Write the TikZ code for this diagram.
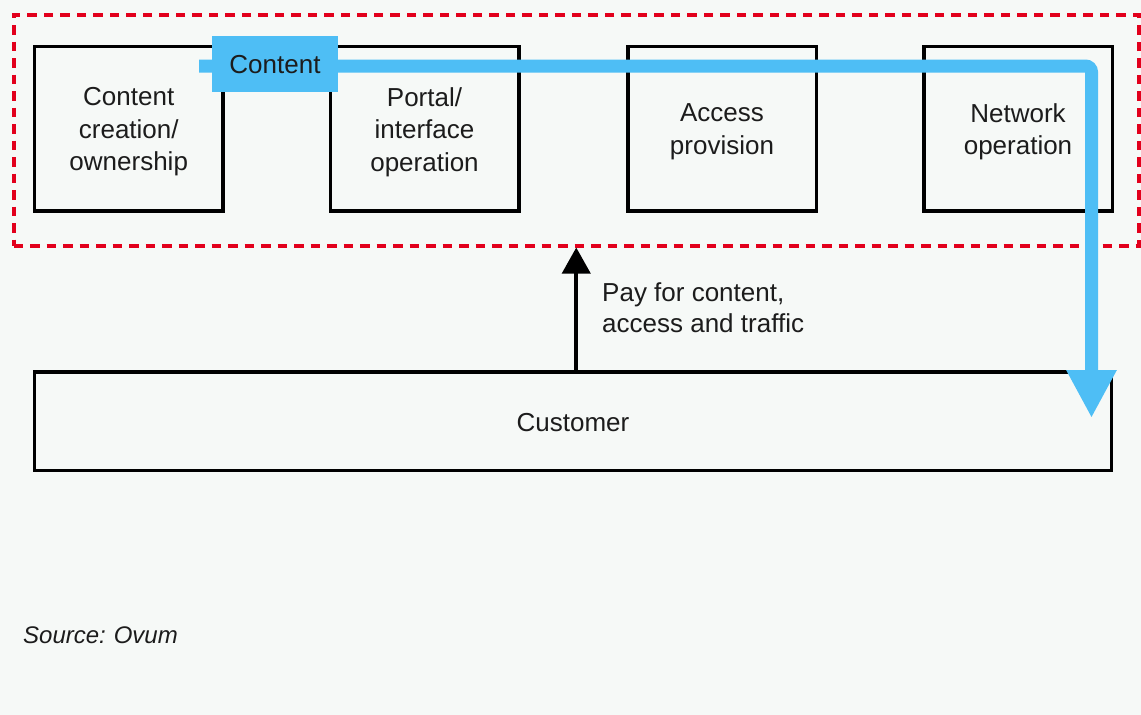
\documentclass[tikz,border=0pt]{standalone}
\usepackage{fontspec}
\setmainfont{Liberation Sans}
\usetikzlibrary{arrows.meta}

\definecolor{pagebg}{RGB}{246,249,247}
\definecolor{framered}{RGB}{226,0,28}
\definecolor{flowblue}{RGB}{78,190,245}
\definecolor{inkgrey}{RGB}{28,28,28}

\tikzset{
  rolebox/.style={draw=black, line width=3.5pt, inner sep=0pt,
    minimum width=188.5pt, minimum height=164.5pt},
  roletext/.style={inner sep=0pt, align=center, text=inkgrey,
    font=\fontsize{26}{32.5}\selectfont},
  groupframe/.style={draw=framered, line width=4pt,
    dash pattern=on 9.5pt off 7pt, inner sep=0pt},
  custbox/.style={draw=black, line width=3.5pt, inner sep=0pt},
  flowline/.style={draw=flowblue, line width=13pt, rounded corners=6pt,
    -{Triangle[width=47pt,length=48pt]}},
  flowtag/.style={fill=flowblue, inner sep=0pt, minimum width=126pt,
    minimum height=56pt},
  payarrow/.style={draw=black, line width=3.8pt,
    -{Triangle[width=28pt,length=26pt]}},
  plaintext/.style={text=inkgrey, inner sep=0pt, align=left,
    font=\fontsize{26}{31}\selectfont}
}

\begin{document}
\begin{tikzpicture}[x=1pt, y=-1pt]
  % page
  \fill[pagebg] (0,0) rectangle (1141,715);
  \useasboundingbox (0,0) rectangle (1141,715);

  % value-chain roles
  \node[rolebox] (create)  at (128.75,128.5) {};
  \node[rolebox] (portal)  at (424.5,128.5)  {};
  \node[rolebox] (access)  at (722,128.5)    {};
  \node[rolebox] (network) at (1018,128.5)   {};
  \node[roletext] (createtxt)  at ([yshift=-3.5pt]create.center)
    {Content\\creation/\\ownership};
  \node[roletext] (portaltxt)  at ([yshift=-3.5pt]portal.center)
    {Portal/\\interface\\operation};
  \node[roletext] (accesstxt)  at ([yshift=-3.5pt]access.center)
    {Access\\provision};
  \node[roletext] (networktxt) at ([yshift=-3.5pt]network.center)
    {Network\\operation};

  % provider group
  \node[groupframe, minimum width=1125.5pt, minimum height=230.5pt]
    (frame) at (576.25,130.25) {};

  % customer
  \node[custbox, minimum width=1077pt, minimum height=98.5pt]
    (customer) at (573,421.25) {};
  \node[roletext] (customertxt) at ([yshift=-1pt]customer.center) {Customer};

  % payment flow
  \draw[payarrow] (customer.north -| frame.south) -- (frame.south);
  \node[plaintext, anchor=west] (pay) at (602,307.5)
    {Pay for content,\\access and traffic};

  % content flow
  \coordinate (flowstart) at (199,66);
  \coordinate (flowturn)  at (1091.5,66);
  \coordinate (flowend)   at (1091.5,418);
  \draw[flowline] (flowstart) -- (flowturn) -- (flowend);
  \node[flowtag] (content) at (275,63.5) {};
  \node[roletext] (contenttxt) at ([yshift=-1.5pt]content.center) {Content};

  % source note
  \node[text=inkgrey, inner sep=0pt, anchor=west,
        font=\fontsize{24}{28}\selectfont\itshape] (source) at (23,635)
    {Source:\hspace{-1pt} Ovum};
\end{tikzpicture}
\end{document}
